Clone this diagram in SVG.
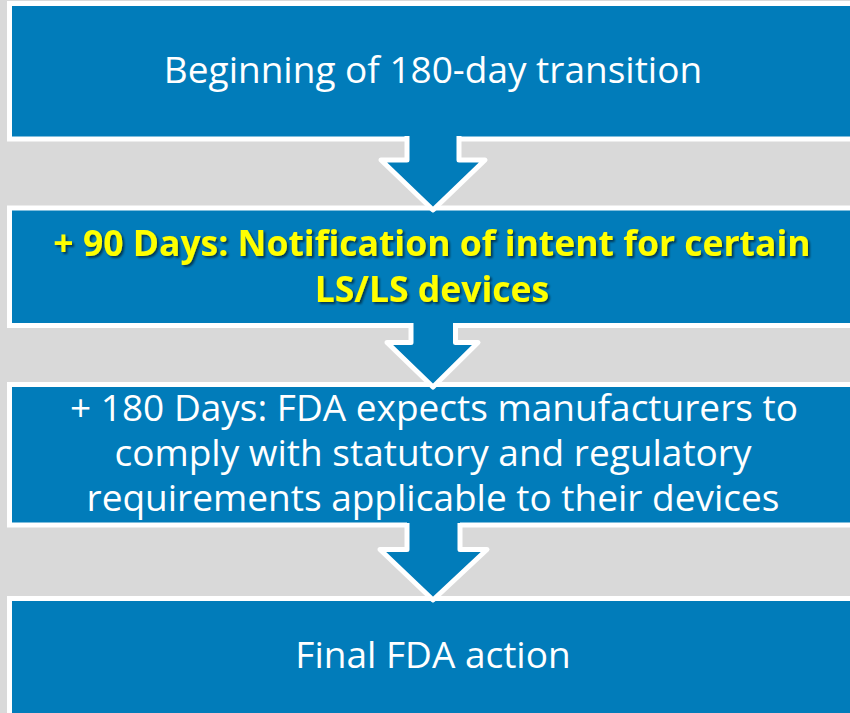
<svg xmlns="http://www.w3.org/2000/svg" width="850" height="713" viewBox="0 0 850 713">
<defs>
<style>
.box{fill:#017CBA;stroke:#FFFFFF;stroke-width:5}
.afill{fill:#017CBA;stroke:none}
.aline{fill:none;stroke:#FFFFFF;stroke-width:5;stroke-linejoin:round}
.t{font-family:"Open Sans","Liberation Sans",sans-serif;font-size:37px;fill:#FFFFFF;text-anchor:middle}
.y{font-family:"Open Sans","Liberation Sans",sans-serif;font-size:35.5px;font-weight:bold;fill:#FFFF00;text-anchor:middle}
</style>
<filter id="sh" x="-5%" y="-20%" width="110%" height="150%">
<feDropShadow dx="2" dy="2" stdDeviation="1" flood-color="#000000" flood-opacity="0.55"/>
</filter>
</defs>
<rect width="850" height="713" fill="#D9D9D9"/>
<g id="node1">
<rect class="box" x="9.5" y="3.5" width="900" height="135.5"/>
<text class="t" x="433" y="83">Beginning of 180-day transition</text>
</g>
<g id="node2">
<rect class="box" x="9.5" y="208" width="900" height="117.5"/>
<g filter="url(#sh)">
<text class="y" x="432" y="256">+ 90 Days: Notification of intent for certain</text>
<text class="y" x="432" y="302">LS/LS devices</text>
</g>
</g>
<g id="node3">
<rect class="box" x="9.5" y="384.5" width="900" height="140.5"/>
<text class="t" x="434" y="421">+ 180 Days: FDA expects manufacturers to</text>
<text class="t" x="433" y="466">comply with statutory and regulatory</text>
<text class="t" x="433" y="511">requirements applicable to their devices</text>
</g>
<g id="node4">
<rect class="box" x="9.5" y="598.5" width="900" height="200"/>
<text class="t" x="433" y="668">Final FDA action</text>
</g>
<g id="connectors">
<polygon class="afill" points="407,130 459,130 459,160 485,160 433,210 381,160 407,160"/>
<polyline class="aline" points="407,136 407,160 381,160 433,210 485,160 459,160 459,136"/>
<polygon class="afill" points="411,318 455.5,318 455.5,342.5 478,342.5 433,387 387,342.5 411,342.5"/>
<polyline class="aline" points="411,323 411,342.5 387,342.5 433,387 478,342.5 455.5,342.5 455.5,323"/>
<polygon class="afill" points="407,518 460,518 460,549.5 487,549.5 433,600 380,549.5 407,549.5"/>
<polyline class="aline" points="407,523 407,549.5 380,549.5 433,600 487,549.5 460,549.5 460,523"/>
</g>
</svg>
